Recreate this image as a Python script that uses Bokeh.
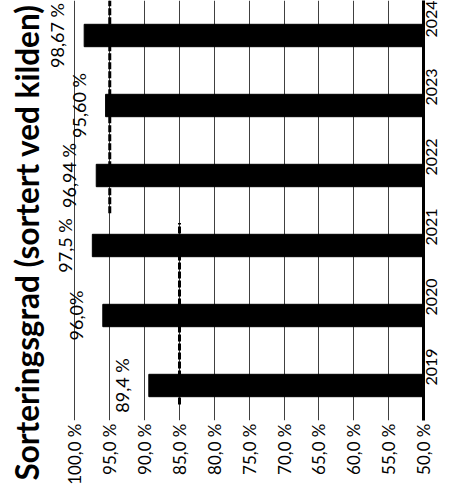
import math
from bokeh.plotting import figure
from bokeh.models import Range1d, FixedTicker, ColumnDataSource
from bokeh.embed import file_html
from bokeh.resources import INLINE

# ---- data ----
YEARS = ["2019", "2020", "2021", "2022", "2023", "2024"]
VALUES = [89.4, 96.0, 97.5, 96.94, 95.60, 98.67]
VALUE_LABELS = ["89,4 %", "96,0%", "97,5 %", "96,94 %", "95,60 %", "98,67 %"]
TARGETS = [85, 85, 85, 95, 95, 95]
TICKS = [100, 95, 90, 85, 80, 75, 70, 65, 60, 55, 50]
TICK_LABELS = ["100,0 %", "95,0 %", "90,0 %", "85,0 %", "80,0 %", "75,0 %",
               "70,0 %", "65,0 %", "60,0 %", "55,0 %", "50,0 %"]
TITLE = "Sorteringsgrad (sortert ved kilden)"

FONT = "Lato"
ypos = [i + 0.5 for i in range(len(YEARS))]

p = figure(width=445, height=487, output_backend="svg", toolbar_location=None,
           x_range=Range1d(103.5, 50), y_range=Range1d(0, len(YEARS)),
           y_axis_location="right", title=TITLE, title_location="left",
           min_border_left=0, min_border_right=0, min_border_top=0,
           min_border_bottom=0)
p.outline_line_color = None
p.background_fill_color = "white"

p.title.text_font = FONT
p.title.text_font_size = "31.5px"
p.title.text_font_style = "bold"
p.title.align = "left"
p.title.text_color = "black"
p.title.offset = -60

# bars
src = ColumnDataSource(dict(y=ypos, v=VALUES, lab=VALUE_LABELS))
p.hbar(y="y", left=50, right="v", height=0.32, source=src,
       fill_color="black", line_color="black")

# target dashed lines (runs of equal target)
RUN_EXT = [(0.27, 0.32), (0.54, 0.5)]
runs = []
start = 0
for i in range(1, len(TARGETS) + 1):
    if i == len(TARGETS) or TARGETS[i] != TARGETS[start]:
        runs.append((start, i - 1, TARGETS[start]))
        start = i
x0s, y0s, y1s = [], [], []
for k, (a, b, t) in enumerate(runs):
    lo, hi = RUN_EXT[k % len(RUN_EXT)]
    x0s.append(t)
    y0s.append(ypos[a] - lo)
    y1s.append(ypos[b] + hi)
p.segment(x0=x0s, y0=y0s, x1=x0s, y1=y1s, line_color="black",
          line_width=3, line_dash="7 2")

# value labels
p.text(x="v", y="y", text="lab", source=src, angle=math.pi / 2,
       text_align="center", text_baseline="bottom", x_offset=-16,
       text_font_size="18px", text_color="black",
       text_font={"value": FONT})

# axes
xa = p.xaxis[0]
xa.ticker = FixedTicker(ticks=TICKS)
xa.major_label_overrides = {t: l for t, l in zip(TICKS, TICK_LABELS)}
xa.major_label_orientation = math.pi / 2
xa.axis_line_color = None
xa.major_tick_line_color = None
xa.minor_tick_line_color = None
xa.major_tick_out = 0
xa.major_tick_in = 0
xa.minor_tick_out = 0
xa.major_label_text_font = FONT
xa.major_label_text_font_size = "17px"
xa.major_label_text_color = "black"
xa.major_label_standoff = 3

ya = p.yaxis[0]
ya.ticker = FixedTicker(ticks=ypos)
ya.major_label_overrides = {y: s for y, s in zip(ypos, YEARS)}
ya.major_label_orientation = math.pi / 2
ya.axis_line_color = "black"
ya.axis_line_width = 3
ya.major_tick_line_color = None
ya.minor_tick_line_color = None
ya.major_tick_out = 0
ya.major_tick_in = 0
ya.minor_tick_out = 0
ya.major_label_text_font = FONT
ya.major_label_text_font_size = "16px"
ya.major_label_text_color = "black"
ya.major_label_standoff = 8

p.xgrid.ticker = FixedTicker(ticks=TICKS)
p.xgrid.grid_line_color = "#404040"
p.xgrid.grid_line_width = 1
p.ygrid.grid_line_color = None

open("out.html", "w").write(file_html(p, INLINE))
